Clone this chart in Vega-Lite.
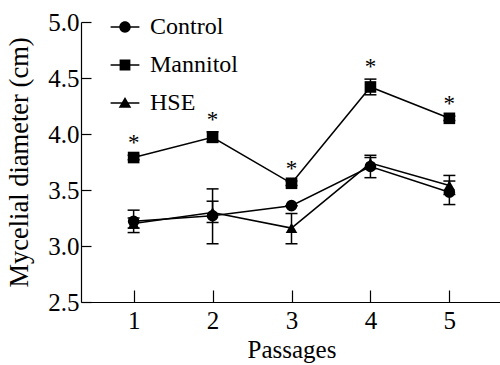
{
  "$schema": "https://vega.github.io/schema/vega-lite/v6.json",
  "autosize": "none",
  "padding": {"left": 81, "top": 22, "right": 0, "bottom": 63},
  "width": 421,
  "height": 280,
  "background": "white",
  "config": {
    "view": {"stroke": null},
    "font": "Liberation Serif",
    "axis": {
      "grid": false,
      "domainColor": "black",
      "domainWidth": 1.2,
      "tickColor": "black",
      "tickWidth": 1.2,
      "labelColor": "black",
      "titleColor": "black",
      "labelFont": "Liberation Serif",
      "titleFont": "Liberation Serif",
      "labelFontSize": 25,
      "titleFontSize": 25,
      "titleFontWeight": "normal"
    }
  },
  "resolve": {"scale": {"shape": "independent"}, "legend": {"shape": "independent"}},
  "data": {
    "values": [
      {"series": "Control", "passage": 1, "mean": 3.22, "lo": 3.12, "hi": 3.32, "sig": ""},
      {"series": "Control", "passage": 2, "mean": 3.27, "lo": 3.02, "hi": 3.51, "sig": ""},
      {"series": "Control", "passage": 3, "mean": 3.36, "lo": 3.36, "hi": 3.36, "sig": ""},
      {"series": "Control", "passage": 4, "mean": 3.71, "lo": 3.61, "hi": 3.81, "sig": ""},
      {"series": "Control", "passage": 5, "mean": 3.48, "lo": 3.37, "hi": 3.58, "sig": ""},
      {"series": "Mannitol", "passage": 1, "mean": 3.79, "lo": 3.77, "hi": 3.81, "sig": "*"},
      {"series": "Mannitol", "passage": 2, "mean": 3.97, "lo": 3.93, "hi": 4.02, "sig": "*"},
      {"series": "Mannitol", "passage": 3, "mean": 3.56, "lo": 3.54, "hi": 3.58, "sig": "*"},
      {"series": "Mannitol", "passage": 4, "mean": 4.42, "lo": 4.35, "hi": 4.49, "sig": "*"},
      {"series": "Mannitol", "passage": 5, "mean": 4.14, "lo": 4.12, "hi": 4.16, "sig": "*"},
      {"series": "HSE", "passage": 1, "mean": 3.2, "lo": 3.16, "hi": 3.25, "sig": ""},
      {"series": "HSE", "passage": 2, "mean": 3.3, "lo": 3.21, "hi": 3.4, "sig": ""},
      {"series": "HSE", "passage": 3, "mean": 3.16, "lo": 3.02, "hi": 3.29, "sig": ""},
      {"series": "HSE", "passage": 4, "mean": 3.74, "lo": 3.69, "hi": 3.79, "sig": ""},
      {"series": "HSE", "passage": 5, "mean": 3.54, "lo": 3.46, "hi": 3.63, "sig": ""}
    ]
  },
  "encoding": {
    "x": {
      "field": "passage", "type": "quantitative",
      "scale": {"domain": [0.3333, 5.6667], "nice": false, "zero": false},
      "axis": {"values": [1, 2, 3, 4, 5], "format": "d", "title": "Passages", "tickSize": -12, "labelPadding": 18, "titlePadding": 4, "labelFontSize": 25, "titleFontSize": 25, "labelFont": "Liberation Serif", "titleFont": "Liberation Serif"}
    }
  },
  "layer": [
    {
      "mark": {"type": "line", "color": "black", "strokeWidth": 1.5},
      "encoding": {
        "y": {
          "field": "mean", "type": "quantitative",
          "scale": {"domain": [2.5, 5.0], "nice": false, "zero": false},
          "axis": {"values": [2.5, 3.0, 3.5, 4.0, 4.5, 5.0], "format": ".1f", "title": "Mycelial diameter (cm)", "tickSize": -10, "labelPadding": 12, "titlePadding": 14, "labelFontSize": 25, "titleFontSize": 26.5, "labelFont": "Liberation Serif", "titleFont": "Liberation Serif"}
        },
        "detail": {"field": "series"}
      }
    },
    {
      "mark": {"type": "rule", "color": "black", "strokeWidth": 1.5},
      "encoding": {
        "y": {"field": "lo", "type": "quantitative"},
        "y2": {"field": "hi"}
      }
    },
    {
      "mark": {"type": "tick", "orient": "horizontal", "color": "black", "size": 12, "thickness": 1.5, "opacity": 1},
      "encoding": {"y": {"field": "lo", "type": "quantitative"}}
    },
    {
      "mark": {"type": "tick", "orient": "horizontal", "color": "black", "size": 12, "thickness": 1.5, "opacity": 1},
      "encoding": {"y": {"field": "hi", "type": "quantitative"}}
    },
    {
      "mark": {"type": "point", "filled": true, "color": "black", "opacity": 1, "size": 135},
      "encoding": {
        "y": {"field": "mean", "type": "quantitative"},
        "shape": {
          "field": "series", "type": "nominal",
          "scale": {"domain": ["Control", "Mannitol", "HSE"], "range": ["circle", "square", "triangle-up"]},
          "legend": null
        }
      }
    },
    {
      "transform": [{"filter": "datum.passage > 100"}],
      "mark": {"type": "point", "filled": true, "fill": "black", "stroke": "black", "strokeWidth": 1.5, "opacity": 1},
      "encoding": {
        "shape": {
          "field": "series", "type": "nominal",
          "scale": {
            "domain": ["Control", "Mannitol", "HSE"],
            "range": [
              "M-2.4,-0.12H2.4V0.12H-2.4ZM-0.95,0A0.95,0.95 0 1,1 0.95,0A0.95,0.95 0 1,1 -0.95,0Z",
              "M-2.4,-0.12H2.4V0.12H-2.4ZM-0.9,-0.9H0.9V0.9H-0.9Z",
              "M-2.4,-0.12H2.4V0.12H-2.4ZM0,-1L1.05,0.8H-1.05Z"
            ]
          },
          "legend": {
            "title": null,
            "orient": "none",
            "legendX": 32,
            "legendY": -7,
            "padding": 0,
            "symbolSize": 144,
            "symbolFillColor": "black",
            "symbolStrokeColor": "black",
            "symbolStrokeWidth": 1.5,
            "symbolOpacity": 1,
            "labelFont": "Liberation Serif",
            "labelFontSize": 24,
            "labelColor": "black",
            "labelOffset": 13,
            "rowPadding": 14
          }
        }
      }
    },
    {
      "mark": {"type": "text", "color": "black", "font": "Liberation Serif", "fontSize": 23, "baseline": "alphabetic", "dy": -5},
      "encoding": {
        "y": {"field": "hi", "type": "quantitative"},
        "text": {"field": "sig"}
      }
    }
  ]
}
